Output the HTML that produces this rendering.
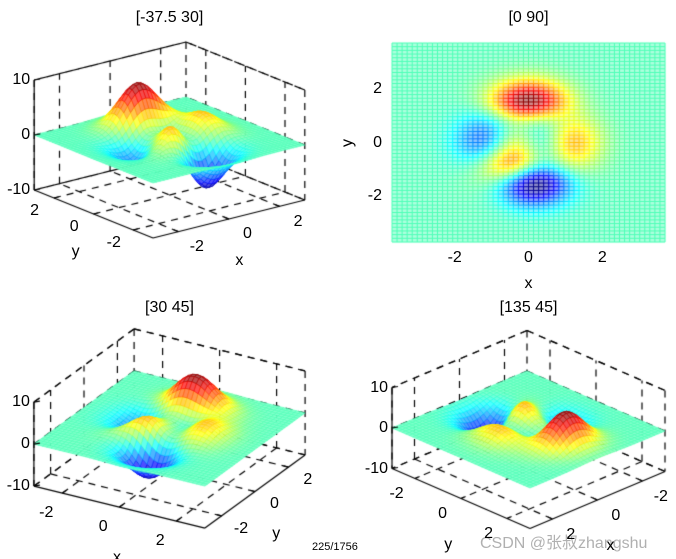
<!DOCTYPE html>
<html><head><meta charset="utf-8">
<style>
html,body{margin:0;padding:0;background:#fff;}
#wrap{position:relative;width:676px;height:559px;overflow:hidden;font-family:"Liberation Sans",sans-serif;}
canvas{position:absolute;left:0;top:0;}
.t{position:absolute;font-size:16px;color:#000;white-space:nowrap;}
</style></head>
<body>
<div id="wrap">
<canvas id="c" width="676" height="559"></canvas>
<div class="t" style="left:312px;top:541px;font-size:11px;">225/1756</div>
<div class="t" style="left:480px;top:529px;font-size:16px;color:rgba(150,150,150,0.75);font-family:'Liberation Sans','Noto Sans CJK SC',sans-serif;">CSDN @张叔zhangshu</div>
</div>
<script>
// grid definitions (data)
const gridN3D = [41];
const gridNTop = [55];
const xyRange3D = [-3, 3];
const xyRangeTop = [-3.7, 3.7];
const zTicks = [-10, 0, 10];
const xyTicks = [-2, 0, 2];
const views = [[-37.5, 30], [0, 90], [30, 45], [135, 45]];
const titles = ["[-37.5 30]", "[0 90]", "[30 45]", "[135 45]"];

function peaks(x, y) {
  return 3*(1-x)*(1-x)*Math.exp(-x*x-(y+1)*(y+1))
    - 10*(x/5 - x*x*x - Math.pow(y,5))*Math.exp(-x*x-y*y)
    - 1/3*Math.exp(-(x+1)*(x+1)-y*y);
}
const ZMIN = -6.55, ZMAX = 8.1;
function jet(v) {
  v = Math.max(0, Math.min(1, v));
  const f = t => Math.max(0, Math.min(1, 1.5 - Math.abs(4*v - t)));
  return [f(3), f(2), f(1)];
}
function col(z, w) {
  const c = jet((z - ZMIN)/(ZMAX - ZMIN));
  return 'rgb(' + c.map(a => Math.round(255*(a*(1-w)+w))).join(',') + ')';
}
const cv = document.getElementById('c');
const ctx = cv.getContext('2d');
const wrap = document.getElementById('wrap');
function label(txt, x, y, name, anchor) {
  const d = document.createElement('div');
  d.className = 't';
  d.textContent = txt;
  
  
  d.style.left = x + 'px'; d.style.top = y + 'px';
  d.style.transform = anchor || 'translate(-50%,-50%)';
  wrap.appendChild(d);
}
function line(a, b, dashed) {
  ctx.save();
  ctx.strokeStyle = '#000'; ctx.lineWidth = 1.2;
  ctx.setLineDash(dashed ? [7, 6] : []);
  ctx.beginPath(); ctx.moveTo(a[0], a[1]); ctx.lineTo(b[0], b[1]); ctx.stroke();
  ctx.restore();
}
const cfgs = [
  {O:[169.5,140], ex:[25.3,-6.33], ey:[-19.8,-8], ez:[0,-5.5], v:views[0], t:titles[0], ty:18, fx:-3, fy:-3},
  {O:[169.5,428.5], ex:[28.5,7], ey:[16.7,-12.2], ez:[0,-4.2], v:views[2], t:titles[2], ty:308, fx:3, fy:-3},
  {O:[528.5,429.5], ex:[-22.5,9.5], ey:[23,10], ez:[0,-4.05], v:views[3], t:titles[3], ty:308, fx:3, fy:3}
];
function draw3D(c, idx) {
  const P = (x, y, z) => [c.O[0]+x*c.ex[0]+y*c.ey[0]+z*c.ez[0], c.O[1]+x*c.ex[1]+y*c.ey[1]+z*c.ez[1]];
  const D = 3, bx = -c.fx, by = -c.fy;
  const fl = (a,b)=>line(a,b,true);
  fl(P(bx,by,10), P(c.fx,by,10)); fl(P(bx,by,10), P(bx,c.fy,10));
  fl(P(c.fx,by,10), P(c.fx,by,-10)); fl(P(bx,c.fy,10), P(bx,c.fy,-10));
  fl(P(bx,by,10), P(bx,by,-10));
  fl(P(bx,by,-10), P(c.fx,by,-10)); fl(P(bx,by,-10), P(bx,c.fy,-10));
  xyTicks.forEach(t => {
    fl(P(t,by,-10), P(t,by,10)); fl(P(bx,t,-10), P(bx,t,10));
    fl(P(t,-D,-10), P(t,D,-10)); fl(P(-D,t,-10), P(D,t,-10));
  });
  zTicks.forEach(z => { fl(P(-D,by,z), P(D,by,z)); fl(P(bx,-D,z), P(bx,D,z)); });
  const n = gridN3D[0], lo = xyRange3D[0], hi = xyRange3D[1];
  const g = []; for (let i=0;i<n;i++) g.push(lo + (hi-lo)*i/(n-1));
  const ar = c.v[0]*Math.PI/180, er = c.v[1]*Math.PI/180;
  const vx = Math.sin(ar)*Math.cos(er), vy = -Math.cos(ar)*Math.cos(er), vz = Math.sin(er);
  const quads = [];
  for (let i=0;i<n-1;i++) for (let j=0;j<n-1;j++) {
    const pts = [[g[i],g[j]],[g[i+1],g[j]],[g[i+1],g[j+1]],[g[i],g[j+1]]].map(p=>[p[0],p[1],peaks(p[0],p[1])]);
    const zm = (pts[0][2]+pts[1][2]+pts[2][2]+pts[3][2])/4;
    const cx = (g[i]+g[i+1])/2, cy = (g[j]+g[j+1])/2;
    quads.push({pts, zm, d: vx*cx/3 + vy*cy/3 + vz*zm/10});
  }
  quads.sort((a,b)=>a.d-b.d);
  quads.forEach(q => {
    ctx.beginPath();
    q.pts.forEach((p,k)=>{const s=P(p[0],p[1],p[2]); k?ctx.lineTo(s[0],s[1]):ctx.moveTo(s[0],s[1]);});
    ctx.closePath();
    ctx.fillStyle = col(q.zm, 0.3); ctx.fill();
    ctx.strokeStyle = col(q.zm, 0); ctx.lineWidth = 0.6; ctx.stroke();
  });
  const c1 = [c.fx, by], c2 = [bx, c.fy];
  const s1 = P(c1[0],c1[1],-10), s2 = P(c2[0],c2[1],-10);
  const L = s1[0] < s2[0] ? c1 : c2;
  const F = P(c.fx,c.fy,-10);
  line(P(L[0],L[1],-10), P(L[0],L[1],10), false);
  line(s1, F, false); line(s2, F, false);
  zTicks.forEach(z => {
    const p = P(L[0],L[1],z); line(p, [p[0]+6,p[1]-1], false);
    label(String(z), p[0]-4, p[1], 'z-tick-label', 'translate(-100%,-50%)');
  });
  const cen = P(0,0,-10);
  function edgeLabels(axis) {
    const mid = axis==='x' ? P(0,c.fy,-10) : P(c.fx,0,-10);
    let dx = mid[0]-cen[0], dy = mid[1]-cen[1]; const m = Math.hypot(dx,dy); dx/=m; dy/=m;
    xyTicks.forEach(t => {
      const p = axis==='x' ? P(t,c.fy,-10) : P(c.fx,t,-10);
      line(p, [p[0]-dx*5, p[1]-dy*5], false);
      label(String(t), p[0]+dx*20, p[1]+dy*20+8, axis+'-tick-label');
    });
    const tp = axis==='x' ? P(c.fx*0.35,c.fy,-10) : P(c.fx,c.fy*0.35,-10);
    label(axis, tp[0]+dx*40, tp[1]+dy*40+20, axis+'-axis-title');
  }
  edgeLabels('x'); edgeLabels('y');
  label(c.t, c.O[0], c.ty, 'plot-title-'+(idx+1));
}
cfgs.forEach(draw3D);

(function(){
  const L=392, R=665, T=43, B=242;
  const lo = xyRangeTop[0], hi = xyRangeTop[1], n = gridNTop[0];
  const sx = x => L + (x-lo)/(hi-lo)*(R-L);
  const sy = y => B - (y-lo)/(hi-lo)*(B-T);
  const g = []; for (let i=0;i<n;i++) g.push(lo+(hi-lo)*i/(n-1));
  for (let i=0;i<n-1;i++) for (let j=0;j<n-1;j++) {
    const cx=(g[i]+g[i+1])/2, cy=(g[j]+g[j+1])/2, z=peaks(cx,cy);
    ctx.fillStyle = col(z, 0.55);
    ctx.fillRect(sx(g[i]), sy(g[j+1]), sx(g[i+1])-sx(g[i])+0.3, sy(g[j])-sy(g[j+1])+0.3);
  }
  ctx.lineWidth = 1;
  for (let i=0;i<n;i++) for (let j=0;j<n-1;j++) {
    ctx.strokeStyle = col(peaks(g[i],(g[j]+g[j+1])/2),0);
    ctx.beginPath(); ctx.moveTo(sx(g[i]),sy(g[j])); ctx.lineTo(sx(g[i]),sy(g[j+1])); ctx.stroke();
    ctx.strokeStyle = col(peaks((g[j]+g[j+1])/2,g[i]),0);
    ctx.beginPath(); ctx.moveTo(sx(g[j]),sy(g[i])); ctx.lineTo(sx(g[j+1]),sy(g[i])); ctx.stroke();
  }
  xyTicks.forEach(t => {
    label(String(t), sx(t), B+16, 'x-tick-label');
    label(String(t), L-10, sy(t), 'y-tick-label', 'translate(-100%,-50%)');
  });
  label('x', (L+R)/2, B+42, 'x-axis-title');
  label('y', L-44, (T+B)/2, 'y-axis-title', 'translate(-50%,-50%) rotate(-90deg)');
  label(titles[1], (L+R)/2, 18, 'plot-title-2');
})();
</script>
</body></html>
